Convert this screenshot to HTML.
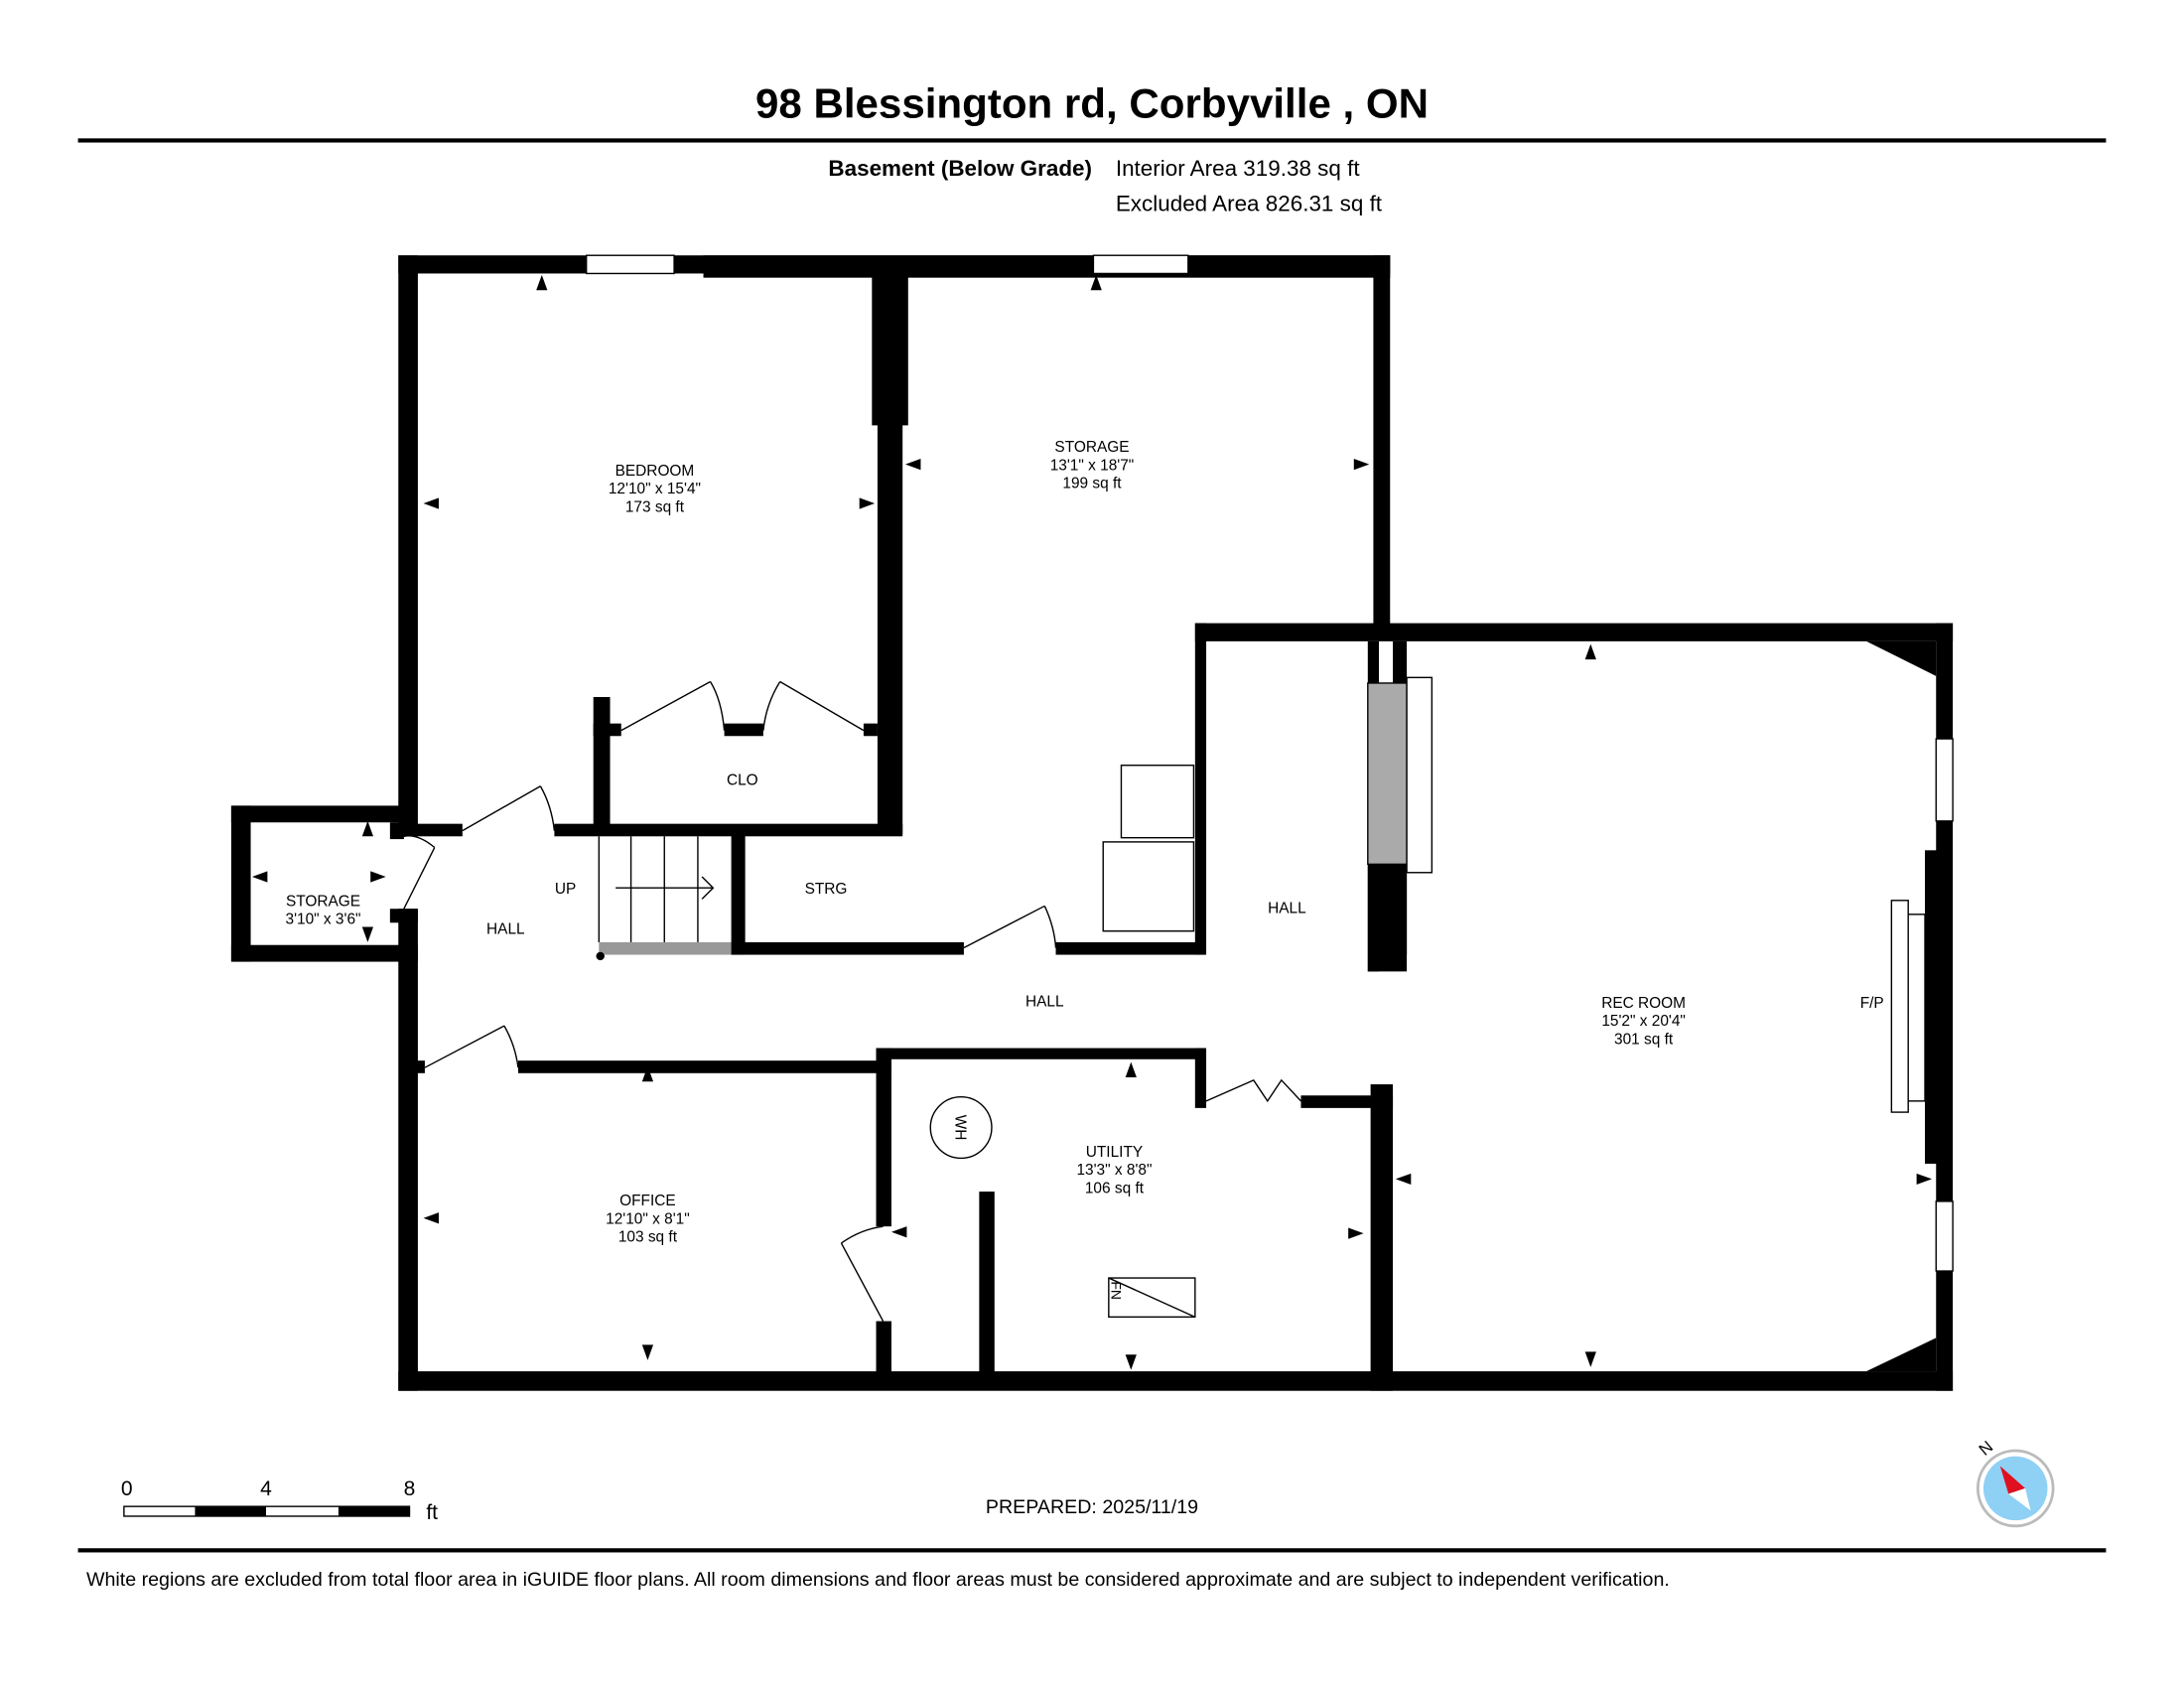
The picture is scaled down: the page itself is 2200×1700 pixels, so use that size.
<!DOCTYPE html>
<html><head><style>
html,body{margin:0;padding:0;background:#fff}
svg{display:block}
text{font-family:"Liberation Sans",Arial,sans-serif;fill:#000}
</style></head><body>
<svg width="2200" height="1700" viewBox="0 0 1568 1211" xmlns="http://www.w3.org/2000/svg">
<rect width="1568" height="1211" fill="#fff"/>
<text x="784" y="84" font-size="30" font-weight="bold" text-anchor="middle">98 Blessington rd, Corbyville , ON</text>
<rect x="56" y="99" width="1456" height="3" fill="#000"/>
<text x="784" y="126" font-size="16" font-weight="bold" text-anchor="end">Basement (Below Grade)</text>
<text x="801" y="126" font-size="16">Interior Area 319.38 sq ft</text>
<text x="801" y="151" font-size="16">Excluded Area 826.31 sq ft</text>
<g fill="#000">
<rect x="286" y="183" width="712" height="13"/>
<rect x="505" y="183" width="493" height="16"/>
<rect x="286" y="183" width="14" height="417"/>
<rect x="626" y="196" width="26" height="109"/>
<rect x="630" y="196" width="18" height="402"/>
<rect x="986" y="183" width="12" height="270"/>
<rect x="858" y="447" width="544" height="13"/>
<rect x="1390" y="447" width="12" height="551"/>
<rect x="286" y="984" width="1116" height="14"/>
<rect x="286" y="652" width="14" height="346"/>
<rect x="166" y="578" width="14" height="112"/>
<rect x="166" y="578" width="124" height="12"/>
<rect x="166" y="678" width="134" height="12"/>
<rect x="280" y="652" width="20" height="10"/>
<rect x="280" y="590" width="10" height="12"/>
<rect x="286" y="591" width="46" height="9"/>
<rect x="398" y="591" width="250" height="9"/>
<rect x="426" y="500" width="12" height="98"/>
<rect x="426" y="519" width="20" height="9"/>
<rect x="520" y="519" width="28" height="9"/>
<rect x="620" y="519" width="10" height="9"/>
<rect x="525" y="598" width="10" height="87"/>
<rect x="525" y="676" width="167" height="9"/>
<rect x="758" y="676" width="107" height="9"/>
<rect x="858" y="447" width="8" height="238"/>
<rect x="298" y="761" width="7" height="9"/>
<rect x="372" y="761" width="268" height="9"/>
<rect x="629" y="752" width="11" height="128"/>
<rect x="629" y="948" width="11" height="37"/>
<rect x="629" y="752" width="236" height="8"/>
<rect x="858" y="752" width="8" height="43"/>
<rect x="934" y="786" width="66" height="9"/>
<rect x="984" y="778" width="16" height="220"/>
<rect x="703" y="855" width="11" height="130"/>
<rect x="982" y="460" width="8" height="237"/>
<rect x="1000" y="460" width="10" height="225"/>
<rect x="982" y="620" width="28" height="77"/>
<rect x="1382" y="610" width="10" height="225"/>
<polygon points="1340,460 1390,460 1390,485"/>
<polygon points="1340,984 1390,984 1390,960"/>
</g>
<rect x="982" y="490" width="28" height="130" fill="#aaa" stroke="#000"/>
<rect x="1010" y="486" width="18" height="140" fill="#fff" stroke="#000"/>
<rect x="1358" y="646" width="12" height="152" fill="#fff" stroke="#000"/>
<rect x="1370" y="656" width="12" height="134" fill="#fff" stroke="#000"/>
<g fill="#fff" stroke="#000" stroke-width="1">
<rect x="421" y="183" width="63" height="13"/>
<rect x="785" y="183" width="68" height="13"/>
<rect x="1390" y="530" width="12" height="59"/>
<rect x="1390" y="862" width="12" height="50"/>
<rect x="805" y="549" width="52" height="52"/>
<rect x="792" y="604" width="65" height="64"/>
<rect x="796" y="917" width="62" height="28"/>
</g>
<line x1="796" y1="917" x2="858" y2="945" stroke="#000"/>
<rect x="430" y="676" width="95" height="9" fill="#999"/>
<circle cx="431" cy="686" r="3" fill="#000"/>
<g stroke="#000" stroke-width="1" fill="none">
<line x1="430" y1="600" x2="430" y2="676"/><line x1="453" y1="600" x2="453" y2="676"/><line x1="477" y1="600" x2="477" y2="676"/><line x1="501" y1="600" x2="501" y2="676"/>
<line x1="442" y1="637" x2="512" y2="637"/><polyline points="504,629 512,637 504,645"/>
<line x1="446" y1="524" x2="510" y2="489"/><path d="M510,489 Q518,502 520,524"/>
<line x1="620" y1="524" x2="560" y2="489"/><path d="M560,489 Q550,505 548,524"/>
<line x1="332" y1="596" x2="388" y2="564"/><path d="M388,564 Q396,578 398,596"/>
<line x1="290" y1="652" x2="312" y2="608"/><path d="M312,608 Q300,598 290,600"/>
<line x1="692" y1="680" x2="750" y2="650"/><path d="M750,650 Q757,665 758,680"/>
<line x1="305" y1="766" x2="362" y2="736"/><path d="M362,736 Q370,750 372,766"/>
<line x1="634" y1="948" x2="604" y2="892"/><path d="M604,892 Q618,882 634,880"/>
<polyline points="866,790 900,775 910,790 920,775 934,790"/>
<circle cx="690" cy="809" r="22"/>
</g>
<g font-size="11" text-anchor="middle">
<text x="470" y="341">BEDROOM</text><text x="470" y="354">12'10" x 15'4"</text><text x="470" y="367">173 sq ft</text>
<text x="784" y="324">STORAGE</text><text x="784" y="337">13'1" x 18'7"</text><text x="784" y="350">199 sq ft</text>
<text x="533" y="563">CLO</text>
<text x="232" y="650">STORAGE</text><text x="232" y="663">3'10" x 3'6"</text>
<text x="406" y="641">UP</text><text x="593" y="641">STRG</text>
<text x="363" y="670">HALL</text><text x="924" y="655">HALL</text><text x="750" y="722">HALL</text>
<text x="1180" y="723">REC ROOM</text><text x="1180" y="736">15'2" x 20'4"</text><text x="1180" y="749">301 sq ft</text>
<text x="1344" y="723">F/P</text>
<text x="465" y="865">OFFICE</text><text x="465" y="878">12'10" x 8'1"</text><text x="465" y="891">103 sq ft</text>
<text x="800" y="830">UTILITY</text><text x="800" y="843">13'3" x 8'8"</text><text x="800" y="856">106 sq ft</text>
<text x="0" y="0" transform="translate(686,809) rotate(90)">WH</text>
<text x="0" y="0" transform="translate(798,926) rotate(90)" font-size="10">FN</text>
</g>
<g fill="#000">
<polygon points="385,208 389,197 393,208"/><polygon points="783,208 787,197 791,208"/><polygon points="1138,473 1142,462 1146,473"/><polygon points="461,776 465,765 469,776"/><polygon points="808,773 812,762 816,773"/>
<polygon points="304,361 315,357 315,365"/><polygon points="617,357 628,361 617,365"/><polygon points="650,333 661,329 661,337"/><polygon points="972,329 983,333 972,337"/>
<polygon points="304,874 315,870 315,878"/><polygon points="640,884 651,880 651,888"/><polygon points="968,881 979,885 968,889"/><polygon points="1002,846 1013,842 1013,850"/><polygon points="1376,842 1387,846 1376,850"/>
<polygon points="461,965 465,976 469,965"/><polygon points="808,972 812,983 816,972"/><polygon points="1138,970 1142,981 1146,970"/>
<polygon points="181,629 192,625 192,633"/><polygon points="266,625 277,629 266,633"/><polygon points="260,600 264,589 268,600"/><polygon points="260,665 264,676 268,665"/>
</g>
<text x="91" y="1073" font-size="15" text-anchor="middle">0</text><text x="191" y="1073" font-size="15" text-anchor="middle">4</text><text x="294" y="1073" font-size="15" text-anchor="middle">8</text><text x="306" y="1090" font-size="15">ft</text>
<rect x="89" y="1081" width="205" height="7" fill="#fff" stroke="#000"/>
<rect x="140" y="1081" width="51" height="7" fill="#000"/><rect x="243" y="1081" width="51" height="7" fill="#000"/>
<text x="784" y="1086" font-size="14" text-anchor="middle">PREPARED: 2025/11/19</text>
<circle cx="1447" cy="1068" r="27" fill="#fff" stroke="#bbb" stroke-width="2"/>
<circle cx="1447" cy="1068" r="23" fill="#8fd0f5"/>
<polygon points="1436,1052 1454,1068 1442,1072" fill="#e01020"/>
<polygon points="1442,1072 1454,1068 1458,1084" fill="#fff"/>
<text x="1425" y="1045" font-size="12" transform="rotate(-40 1425 1045)">N</text>
<rect x="56" y="1111" width="1456" height="3" fill="#000"/>
<text x="62" y="1138" font-size="14">White regions are excluded from total floor area in iGUIDE floor plans. All room dimensions and floor areas must be considered approximate and are subject to independent verification.</text>
</svg>
</body></html>
